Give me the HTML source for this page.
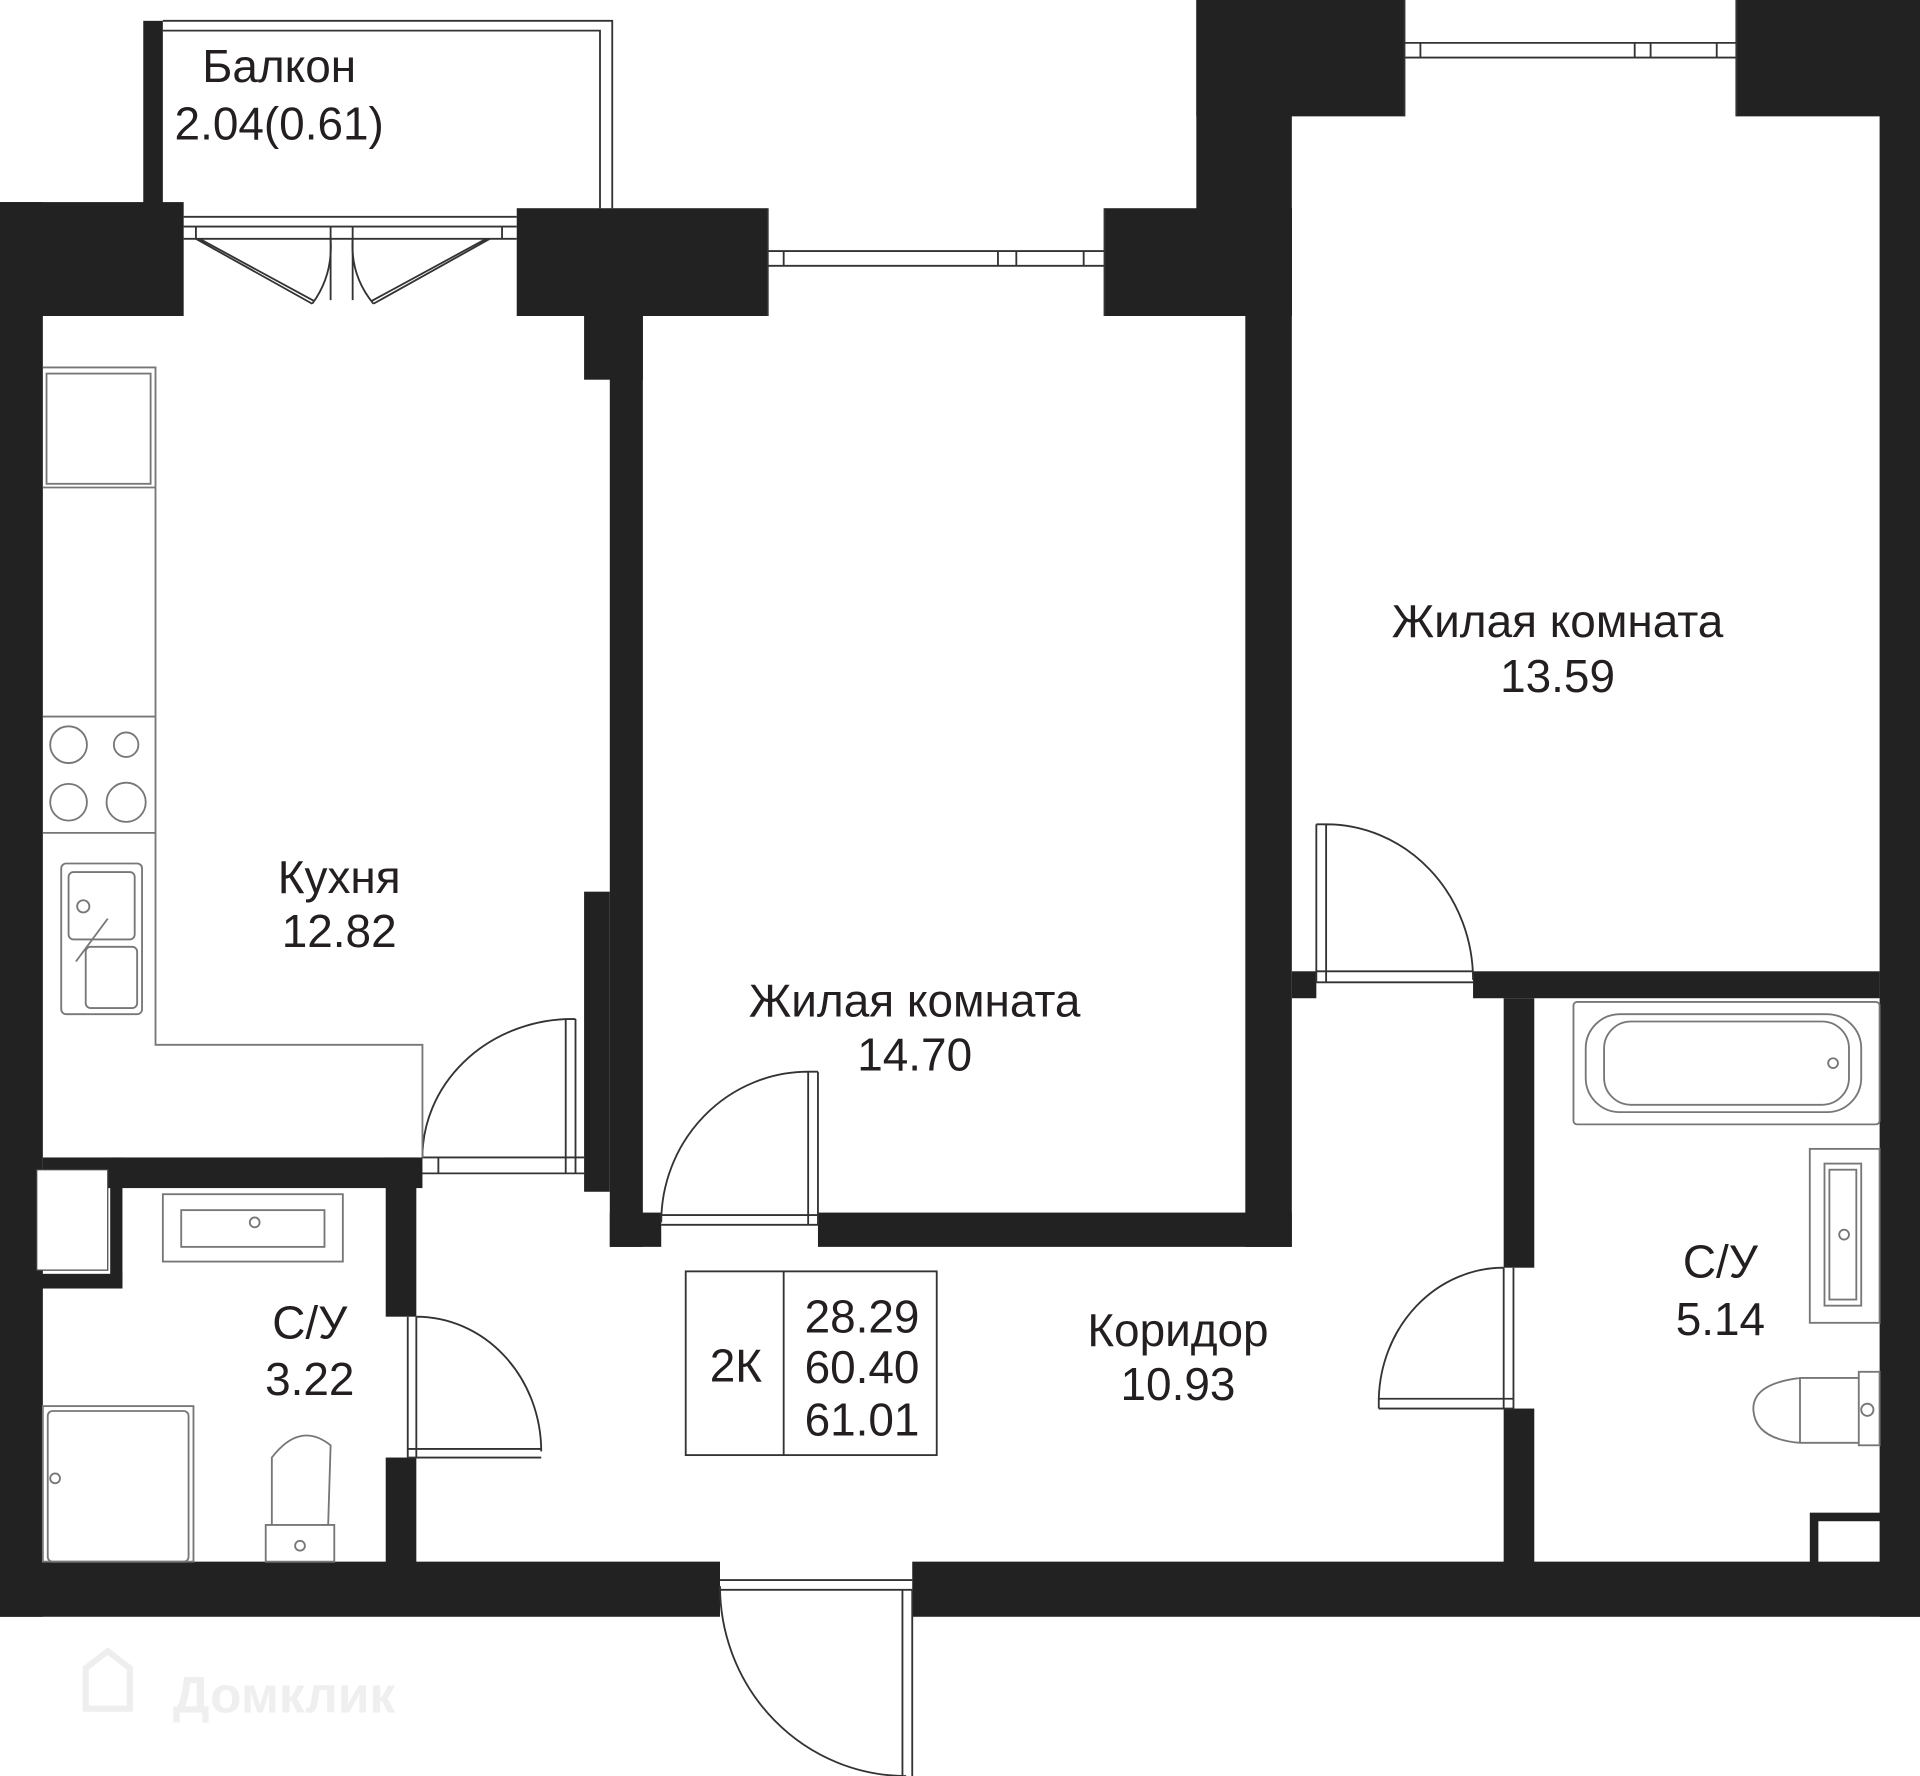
<!DOCTYPE html>
<html><head><meta charset="utf-8"><style>
html,body{margin:0;padding:0;background:#fff;}
svg{display:block;}
text{font-family:"Liberation Sans",sans-serif;fill:#231f20;font-size:37.5px;text-anchor:middle;}
</style></head><body>
<svg width="1920" height="1776" viewBox="0 0 1568 1450" preserveAspectRatio="none" xmlns="http://www.w3.org/2000/svg">
<rect width="1568" height="1450" fill="#fff"/>
<g fill="#222">
<rect x="0" y="165" width="35" height="1155"/>
<rect x="0" y="165" width="150" height="93"/>
<rect x="117" y="17" width="16" height="153"/>
<rect x="422" y="170" width="205" height="88"/>
<rect x="902" y="170" width="153" height="88"/>
<rect x="977" y="0" width="170" height="95"/>
<rect x="977" y="0" width="78" height="258"/>
<rect x="1418" y="0" width="150" height="95"/>
<rect x="1535" y="0" width="33" height="1320"/>
<rect x="1017" y="170" width="38" height="848"/>
<rect x="1055" y="793" width="20" height="22"/>
<rect x="1203" y="793" width="332" height="22"/>
<rect x="498" y="990" width="42" height="28"/>
<rect x="668" y="990" width="387" height="28"/>
<rect x="477" y="258" width="48" height="52"/>
<rect x="498" y="258" width="27" height="760"/>
<rect x="477" y="728" width="21" height="245"/>
<rect x="35" y="945" width="310" height="25"/>
<rect x="90" y="945" width="10" height="105"/>
<rect x="28" y="1040" width="72" height="12"/>
<rect x="315" y="945" width="25" height="130"/>
<rect x="315" y="1190" width="25" height="90"/>
<rect x="1228" y="815" width="25" height="220"/>
<rect x="1228" y="1150" width="25" height="130"/>
<rect x="1478" y="1235" width="62" height="45"/>
<rect x="0" y="1275" width="588" height="45"/>
<rect x="745" y="1275" width="823" height="45"/>
</g>
<rect x="30" y="955" width="58" height="82" fill="#fff" stroke="#444" stroke-width="1"/>
<rect x="1485" y="1242" width="50" height="33" fill="#fff"/>
<g fill="none" stroke="#333" stroke-width="1.5">
<path d="M133 17 H500 V170 M133 25 H490 V170"/>
<path d="M150 177 H422 M150 185 H422 M150 195 H422 M160 185 V195 M270 185 V245 M288 185 V245 M410 185 V195"/>
<path d="M160 195 L255 248 M163 195 L257 246 M270 195 Q272 225 255 248 M400 195 L305 248 M397 195 L303 246 M288 195 Q286 225 305 248"/>
<path d="M627 170 V258 M902 170 V258 M627 205 H902 M627 217 H902 M640 205 V217 M815 205 V217 M830 205 V217 M885 205 V217"/>
<path d="M1147 0 V95 M1418 0 V95 M1147 35 H1418 M1147 47 H1418 M1160 35 V47 M1335 35 V47 M1348 35 V47 M1402 35 V47"/>
<path d="M345 945 H477 M345 958 H477 M358 945 V958 M462 832 V958 M470 832 V958 M462 832 H470 M345 945 A123 113 0 0 1 462 832"/>
<path d="M540 992 H668 M540 1000 H668 M660 875 V1000 M668 875 V1000 M660 875 H668 M540 998 A120 123 0 0 1 660 875"/>
<path d="M1075 793 H1203 M1075 802 H1203 M1075 673 V802 M1083 673 V802 M1075 673 H1083 M1083 673 A120 127 0 0 1 1203 800"/>
<path d="M1228 1035 V1150 M1236 1035 V1150 M1126 1142 H1236 M1126 1150 H1236 M1126 1142 V1150 M1228 1035 A102 110 0 0 0 1126 1142"/>
<path d="M333 1075 V1190 M340 1075 V1190 M333 1183 H442 M333 1190 H442 M340 1075 A102 110 0 0 1 442 1185"/>
<path d="M588 1290 H745 M588 1298 H745 M737 1298 V1450 M745 1298 V1450 M588 1295 A152 155 0 0 0 740 1450"/>
<rect x="560" y="1038" width="205" height="150"/>
<path d="M640 1038 V1188"/>
</g>
<g fill="none" stroke="#777" stroke-width="1.5">
<path d="M35 300 H127 V853 H345 V945"/>
<rect x="38" y="305" width="85" height="90"/>
<path d="M35 398 H127 M35 585 H127 M35 680 H127"/>
<circle cx="56" cy="608" r="15"/><circle cx="103" cy="608" r="10"/>
<circle cx="56" cy="655" r="15"/><circle cx="103" cy="655" r="16"/>
<rect x="50" y="705" width="66" height="123" rx="4"/>
<rect x="56" y="712" width="54" height="55" rx="4"/>
<rect x="70" y="773" width="42" height="50" rx="4"/>
<circle cx="68" cy="740" r="5"/>
<path d="M88 750 L62 785"/>
<rect x="133" y="975" width="147" height="55"/>
<rect x="148" y="988" width="117" height="30"/>
<circle cx="208" cy="998" r="4"/>
<rect x="35" y="1148" width="123" height="127"/>
<rect x="39" y="1152" width="115" height="123" rx="4"/>
<circle cx="45" cy="1207" r="4"/>
<path d="M217 1245 H273 V1275 H217 Z"/>
<path d="M222 1245 V1190 Q245 1160 270 1180 L268 1245"/>
<circle cx="245" cy="1262" r="4"/>
<rect x="1285" y="818" width="250" height="100" rx="3"/>
<rect x="1295" y="828" width="225" height="80" rx="28"/>
<rect x="1310" y="834" width="200" height="68" rx="22"/>
<circle cx="1497" cy="868" r="4"/>
<rect x="1478" y="938" width="57" height="142"/>
<rect x="1490" y="950" width="30" height="116"/>
<rect x="1494" y="955" width="22" height="106"/>
<circle cx="1506" cy="1008" r="4"/>
<rect x="1518" y="1120" width="17" height="60"/>
<path d="M1518 1125 H1470 V1178 H1518 M1470 1125 Q1430 1130 1432 1152 Q1434 1175 1470 1178"/>
<circle cx="1525" cy="1151" r="5"/>
</g>
<text x="228" y="67">Балкон</text>
<text x="228" y="114">2.04(0.61)</text>
<text x="277" y="729">Кухня</text>
<text x="277" y="773">12.82</text>
<text x="747" y="830">Жилая комната</text>
<text x="747" y="874">14.70</text>
<text x="1272" y="520">Жилая комната</text>
<text x="1272" y="565">13.59</text>
<text x="962" y="1099">Коридор</text>
<text x="962" y="1143">10.93</text>
<text x="253" y="1093">С/У</text>
<text x="253" y="1139">3.22</text>
<text x="1405" y="1043">С/У</text>
<text x="1405" y="1090">5.14</text>
<text x="601" y="1128">2К</text>
<text x="704" y="1088">28.29</text>
<text x="704" y="1129">60.40</text>
<text x="704" y="1172">61.01</text>
<path d="M70 1395 V1362 L88 1348 L106 1362 V1395 Z" fill="none" stroke="#eeeeee" stroke-width="5"/>
<text x="232" y="1398" style="fill:#efefef;font-size:42px;font-weight:bold">Домклик</text>
</svg>
</body></html>
